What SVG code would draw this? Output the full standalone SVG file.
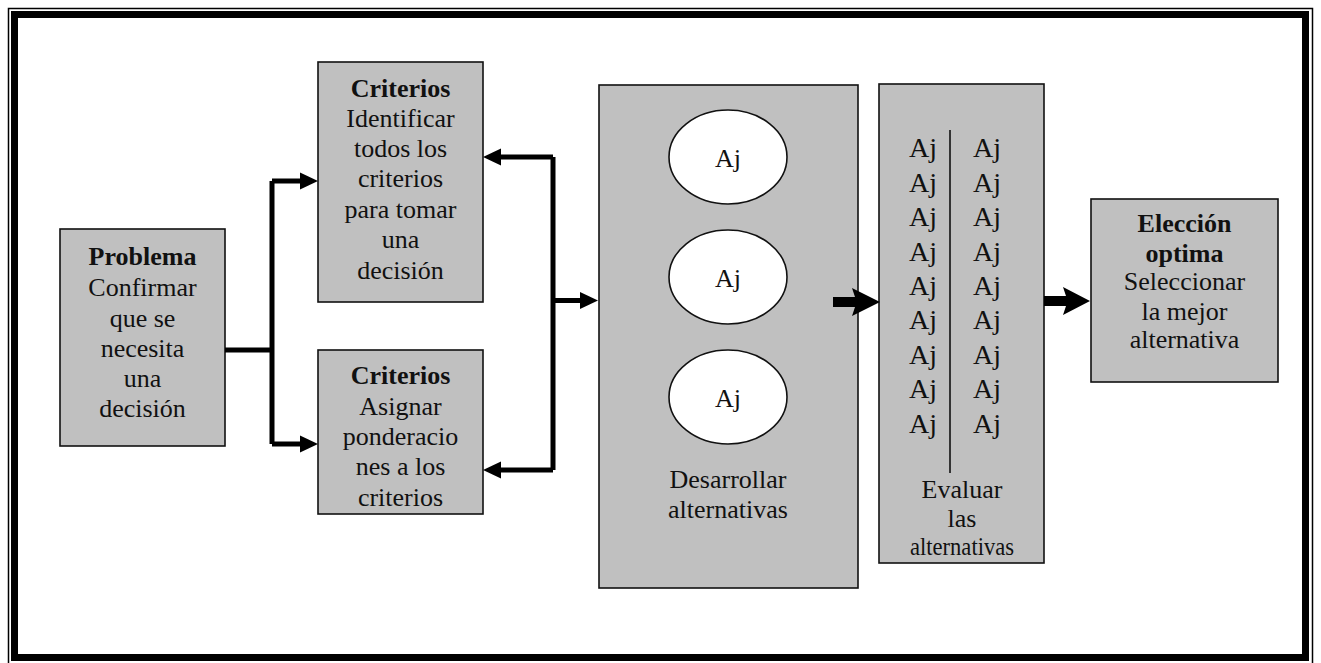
<svg xmlns="http://www.w3.org/2000/svg" width="1321" height="663" viewBox="0 0 1321 663">
<style>
.box{fill:#c0c0c0;stroke:#111;stroke-width:1.6}
.t{font-family:"Liberation Serif","Times New Roman",serif;font-size:26px;fill:#111;text-anchor:middle}
.b{font-weight:bold}
.aj{font-family:"Liberation Serif","Times New Roman",serif;font-size:28px;fill:#111;text-anchor:middle}
.ae{font-family:"Liberation Serif","Times New Roman",serif;font-size:26px;fill:#111;text-anchor:middle}
.ln{fill:none;stroke:#000;stroke-width:5}
.ah{fill:#000}
</style>
<rect width="1321" height="663" fill="#fff"/>
<g id="frame">
<rect x="8.5" y="8.5" width="1304" height="657" fill="none" stroke="#000" stroke-width="1.5"/>
<rect x="14.5" y="14.5" width="1291" height="643" fill="none" stroke="#000" stroke-width="7"/>
</g>
<g id="problema">
<rect class="box" x="60" y="229" width="165" height="217"/>
<text class="t b" x="142.5" y="265">Problema</text>
<text class="t" x="142.5" y="296">Confirmar</text>
<text class="t" x="142.5" y="327">que se</text>
<text class="t" x="142.5" y="357">necesita</text>
<text class="t" x="142.5" y="387">una</text>
<text class="t" x="142.5" y="417">decisión</text>
</g>
<g id="criterios1">
<rect class="box" x="318" y="62" width="165" height="240"/>
<text class="t b" x="400.5" y="97">Criterios</text>
<text class="t" x="400.5" y="127">Identificar</text>
<text class="t" x="400.5" y="157">todos los</text>
<text class="t" x="400.5" y="187">criterios</text>
<text class="t" x="400.5" y="218">para tomar</text>
<text class="t" x="400.5" y="248">una</text>
<text class="t" x="400.5" y="279">decisión</text>
</g>
<g id="criterios2">
<rect class="box" x="318" y="350" width="165" height="164"/>
<text class="t b" x="400.5" y="384">Criterios</text>
<text class="t" x="400.5" y="415">Asignar</text>
<text class="t" x="400.5" y="445">ponderacio</text>
<text class="t" x="400.5" y="475">nes a los</text>
<text class="t" x="400.5" y="506">criterios</text>
</g>
<g id="desarrollar">
<rect class="box" x="599" y="85" width="259" height="503"/>
<ellipse cx="728" cy="157" rx="59" ry="47" fill="#fff" stroke="#111" stroke-width="1.6"/>
<ellipse cx="728" cy="277" rx="59" ry="47" fill="#fff" stroke="#111" stroke-width="1.6"/>
<ellipse cx="728" cy="397" rx="59" ry="47" fill="#fff" stroke="#111" stroke-width="1.6"/>
<text class="ae" x="728" y="167">Aj</text>
<text class="ae" x="728" y="287">Aj</text>
<text class="ae" x="728" y="407">Aj</text>
<text class="t" x="728" y="488">Desarrollar</text>
<text class="t" x="728" y="518">alternativas</text>
</g>
<g id="evaluar">
<rect class="box" x="879" y="84" width="165" height="479"/>
<line x1="950" y1="130" x2="950" y2="473" stroke="#111" stroke-width="1.6"/>
<g class="aj">
<text x="923" y="157">Aj</text><text x="987" y="157">Aj</text>
<text x="923" y="192">Aj</text><text x="987" y="192">Aj</text>
<text x="923" y="226">Aj</text><text x="987" y="226">Aj</text>
<text x="923" y="261">Aj</text><text x="987" y="261">Aj</text>
<text x="923" y="295">Aj</text><text x="987" y="295">Aj</text>
<text x="923" y="329">Aj</text><text x="987" y="329">Aj</text>
<text x="923" y="364">Aj</text><text x="987" y="364">Aj</text>
<text x="923" y="398">Aj</text><text x="987" y="398">Aj</text>
<text x="923" y="433">Aj</text><text x="987" y="433">Aj</text>
</g>
<text class="t" x="962" y="498">Evaluar</text>
<text class="t" x="962" y="527">las</text>
<text class="t" x="962" y="555" textLength="104" lengthAdjust="spacingAndGlyphs">alternativas</text>
</g>
<g id="eleccion">
<rect class="box" x="1091" y="199" width="187" height="183"/>
<text class="t b" x="1184.5" y="232">Elección</text>
<text class="t b" x="1184.5" y="262">optima</text>
<text class="t" x="1184.5" y="290">Seleccionar</text>
<text class="t" x="1184.5" y="320">la mejor</text>
<text class="t" x="1184.5" y="348">alternativa</text>
</g>
<g id="connectors">
<path class="ln" d="M225,350 H272 M272,181 V444 M272,181 H302 M272,444 H302"/>
<polygon class="ah" points="300,172.5 318,181 300,189.5"/>
<polygon class="ah" points="300,435.5 318,444 300,452.5"/>
<path class="ln" d="M553,157 V470 M553,157 H500 M553,470 H500 M553,300.5 H582"/>
<polygon class="ah" points="501,148.5 483,157 501,165.5"/>
<polygon class="ah" points="501,461.5 483,470 501,478.5"/>
<polygon class="ah" points="580,292 598,300.5 580,309"/>
<polygon class="ah" points="833,297 855,297 852,288 880,302 852,316 855,307 833,307"/>
<polygon class="ah" points="1044,296 1066,296 1063,287 1090,301 1063,315 1066,306 1044,306"/>
</g>
</svg>
